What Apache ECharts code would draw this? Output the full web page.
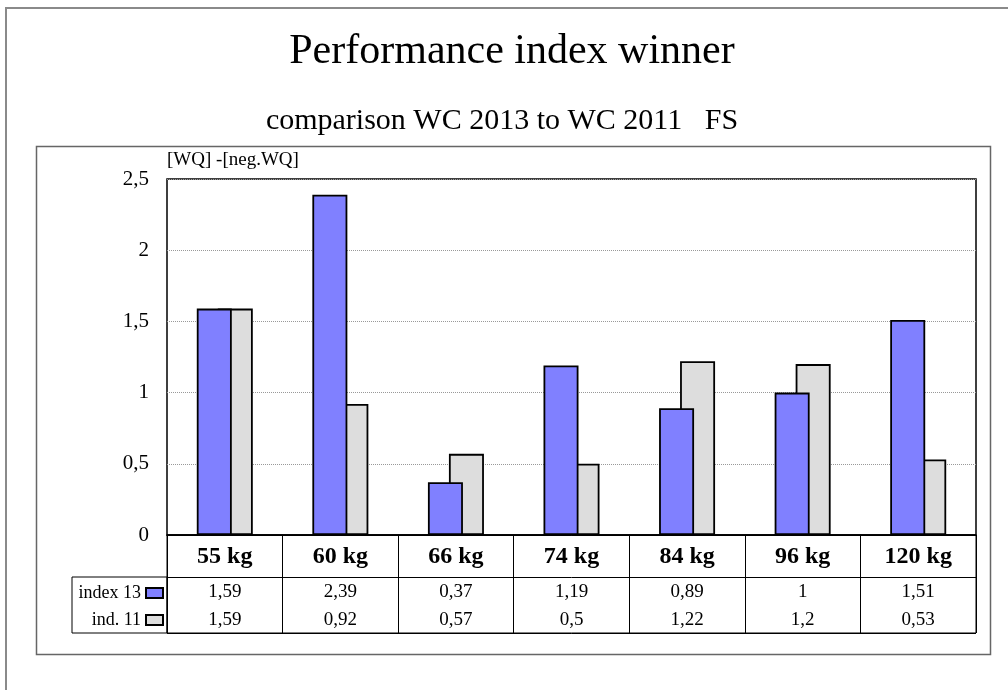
<!DOCTYPE html>
<html>
<head>
<meta charset="utf-8">
<script src="https://cdn.jsdelivr.net/npm/echarts@6/dist/echarts.min.js"></script>
<style>html,body{margin:0;padding:0;background:#fff}#c{width:1008px;height:690px}</style>
</head>
<body>
<div id="c"></div>
<script>
const categories = ['55 kg', '60 kg', '66 kg', '74 kg', '84 kg', '96 kg', '120 kg'];
const index13 = [1.59, 2.39, 0.37, 1.19, 0.89, 1, 1.51];
const ind11 = [1.59, 0.92, 0.57, 0.5, 1.22, 1.2, 0.53];
const seriesNames = ['index 13', 'ind. 11'];
const yTicks = [0, 0.5, 1, 1.5, 2, 2.5];

const FONT = "'Liberation Serif', 'Times New Roman', serif";
const fmt = v => String(v).replace('.', ',');

const chart = echarts.init(document.getElementById('c'), null, {renderer: 'canvas'});
chart.setOption({
  animation: false,
  backgroundColor: '#fff',
  graphic: [
    {type: 'rect', shape: {x: 6, y: 8, width: 1010, height: 700}, style: {fill: 'none', stroke: '#8a8a8a', lineWidth: 2}, z: 0},
    {type: 'rect', shape: {x: 36.5, y: 146.5, width: 954, height: 508}, style: {fill: 'none', stroke: '#666', lineWidth: 1.5}, z: 0}
  ],
  title: [
    {text: 'Performance index winner', left: 507, top: 26, textAlign: 'center',
     textStyle: {fontFamily: FONT, fontSize: 42, fontWeight: 'normal', color: '#000'}},
    {text: 'comparison WC 2013 to WC 2011   FS', left: 497, top: 101, textAlign: 'center',
     textStyle: {fontFamily: FONT, fontSize: 30, fontWeight: 'normal', color: '#000'}}
  ],
  legend: {
    data: seriesNames,
    orient: 'vertical',
    align: 'right',
    right: 839,
    top: 579,
    itemWidth: 17,
    itemHeight: 10,
    itemGap: 9,
    icon: 'rect',
    textStyle: {fontFamily: FONT, fontSize: 18, color: '#000'}
  },
  grid: [
    {left: 167, top: 179, width: 809, height: 356, show: true, borderColor: '#000', borderWidth: 1.5, containLabel: false},
    {left: 167, top: 535, width: 809, height: 98, show: true, borderColor: '#000', borderWidth: 1, containLabel: false},
    {left: 72, top: 577, width: 95, height: 56, show: true, borderColor: '#000', borderWidth: 1, containLabel: false}
  ],
  xAxis: [
    {type: 'category', gridIndex: 0, data: categories,
     axisLine: {lineStyle: {color: '#000', width: 1.5}}, axisTick: {show: false},
     axisLabel: {interval: 0, margin: 0, color: '#000', fontFamily: FONT,
       formatter: (val, idx) => `{c|${val}}\n{v|${fmt(index13[idx])}}\n{v|${fmt(ind11[idx])}}`,
       rich: {
         c: {fontFamily: FONT, fontSize: 24, fontWeight: 'bold', lineHeight: 43, color: '#000'},
         v: {fontFamily: FONT, fontSize: 19, lineHeight: 28, color: '#000'}
       }}},
    {type: 'category', gridIndex: 1, data: categories,
     axisLine: {show: false}, axisTick: {show: false}, axisLabel: {show: false},
     splitLine: {show: true, lineStyle: {color: '#000', width: 1}}},
    {type: 'category', gridIndex: 2, data: [''], show: false}
  ],
  yAxis: [
    {type: 'value', gridIndex: 0, min: 0, max: 2.5, interval: 0.5,
     name: '[WQ] -[neg.WQ]', nameLocation: 'end', nameGap: 9,
     nameTextStyle: {fontFamily: FONT, fontSize: 19, color: '#000', align: 'left', verticalAlign: 'bottom'},
     axisLine: {show: false}, axisTick: {show: false},
     axisLabel: {margin: 18, color: '#000', fontFamily: FONT, fontSize: 21, formatter: v => fmt(v)},
     splitLine: {show: true, lineStyle: {color: '#999', width: 1, type: [1, 1]}}},
    {type: 'value', gridIndex: 1, min: 0, max: 3.5, interval: 2,
     axisLine: {show: false}, axisTick: {show: false}, axisLabel: {show: false},
     splitLine: {show: true, lineStyle: {color: '#000', width: 1}}},
    {type: 'value', gridIndex: 2, show: false}
  ],
  series: [
    {name: seriesNames[0], type: 'bar', xAxisIndex: 0, yAxisIndex: 0, data: index13,
     barWidth: 35, barGap: '-40%', z: 4,
     itemStyle: {color: '#8080ff', borderColor: '#000', borderWidth: 1.8}},
    {name: seriesNames[1], type: 'bar', xAxisIndex: 0, yAxisIndex: 0, data: ind11,
     barWidth: 35, barGap: '-40%', z: 3,
     itemStyle: {color: '#dddddd', borderColor: '#000', borderWidth: 1.8}}
  ]
});
</script>
</body>
</html>
